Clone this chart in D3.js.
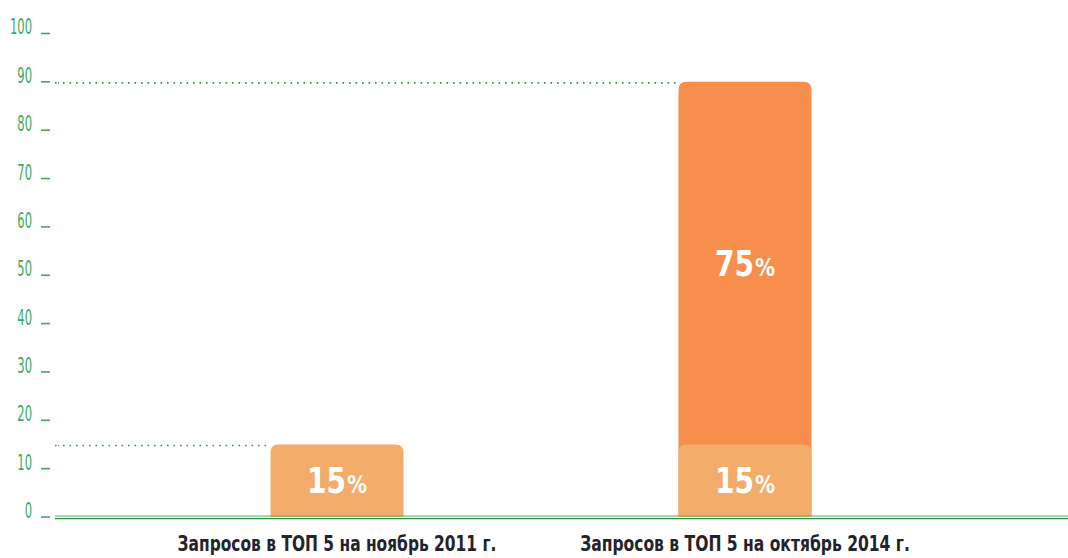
<!DOCTYPE html>
<html>
<head>
<meta charset="utf-8">
<script src="https://cdn.jsdelivr.net/npm/d3@7"></script>
<style>
  html, body { margin: 0; padding: 0; background: #ffffff; }
  svg { display: block; }
</style>
</head>
<body>
<svg id="chart" width="1068" height="558"></svg>
<script>
// ---- data ----
const categories = ["Запросов в ТОП 5 на ноябрь 2011 г.", "Запросов в ТОП 5 на октябрь 2014 г."];
const baseValues = [15, 15];      // light segment
const growthValues = [0, 75];     // dark segment stacked on top
const baseLabels = ["15", "15"];
const growthLabels = ["", "75"];
const yTicks = [0, 10, 20, 30, 40, 50, 60, 70, 80, 90, 100];

// ---- styles ----
const lightOrange = "#f4ac6a";
const darkOrange = "#f78e4b";
const greenText = "#3daa5f";
const greenDark = "#1f9a45";
const fontNarrow = "'DejaVu Sans Condensed', 'Liberation Sans Narrow', 'Liberation Sans', sans-serif";

const svg = d3.select("#chart");

const y = d3.scaleLinear().domain([0, 100]).range([517, 33.5]);
const x = d3.scaleBand().domain(categories).range([66.5, 1015.5])
  .paddingInner(0.674).paddingOuter(0.5);

// scale a text horizontally about an anchor
function squeeze(t, ax, factor) {
  t.attr("transform", `translate(${ax},0) scale(${factor},1) translate(${-ax},0)`);
}

// ---- y axis tick labels and dash ticks ----
const yAxis = svg.append("g");
const probe = yAxis.append("text").attr("font-family", fontNarrow).attr("font-size", 21).text("100");
const yFactor = 22 / probe.node().getComputedTextLength();
probe.remove();
yTicks.forEach(t => {
  const ty = y(t);
  const lbl = yAxis.append("text")
    .attr("x", 32).attr("y", ty + 1)
    .attr("text-anchor", "end")
    .attr("font-family", fontNarrow)
    .attr("font-size", 21)
    .attr("fill", greenText)
    .text(t);
  squeeze(lbl, 32, yFactor);
  yAxis.append("line")
    .attr("x1", 41).attr("x2", 50)
    .attr("y1", ty).attr("y2", ty)
    .attr("stroke", greenText).attr("stroke-width", 1.6);
});

// ---- dotted leader lines ----
categories.forEach((c, i) => {
  const total = baseValues[i] + growthValues[i];
  const ly = y(total) + 1;
  const x1 = 55, x2 = x(c) - 3;
  svg.append("line")
    .attr("x1", x1).attr("x2", x1 + 4)
    .attr("y1", ly).attr("y2", ly)
    .attr("stroke", greenDark).attr("stroke-width", 1.6)
    .attr("stroke-dasharray", "1.6,1.6");
  svg.append("line")
    .attr("x1", x1 + 8).attr("x2", x2)
    .attr("y1", ly).attr("y2", ly)
    .attr("stroke", greenDark).attr("stroke-width", 1.6)
    .attr("stroke-dasharray", "1.6,4.9");
});

// ---- bars (rounded top corners) ----
function topRounded(x0, y0, w, h, r) {
  r = Math.min(r, h / 2, w / 2);
  return `M${x0},${y0 + h} L${x0},${y0 + r} Q${x0},${y0} ${x0 + r},${y0} ` +
         `L${x0 + w - r},${y0} Q${x0 + w},${y0} ${x0 + w},${y0 + r} L${x0 + w},${y0 + h} Z`;
}
const bars = svg.append("g");
categories.forEach((c, i) => {
  const bx = x(c), bw = x.bandwidth();
  const total = baseValues[i] + growthValues[i];
  if (growthValues[i] > 0) {
    bars.append("path")
      .attr("d", topRounded(bx, y(total), bw, y(0) - y(total), 8))
      .attr("fill", darkOrange);
  }
  bars.append("path")
    .attr("d", topRounded(bx, y(baseValues[i]), bw, y(0) - y(baseValues[i]), 8))
    .attr("fill", lightOrange);
});

// ---- value labels ----
function valueLabel(cx, cy, num) {
  const t = svg.append("text")
    .attr("x", cx).attr("y", cy + 12.5)
    .attr("text-anchor", "middle")
    .attr("font-family", fontNarrow)
    .attr("font-weight", "bold")
    .attr("fill", "#ffffff");
  t.append("tspan").attr("font-size", 35).text(num);
  t.append("tspan").attr("font-size", 25).attr("dx", 1).text("%");
  const w = t.node().getComputedTextLength();
  squeeze(t, cx, 59 / w);
}
categories.forEach((c, i) => {
  const cx = x(c) + x.bandwidth() / 2;
  valueLabel(cx, (y(0) + y(baseValues[i])) / 2, baseLabels[i]);
  if (growthValues[i] > 0) {
    const total = baseValues[i] + growthValues[i];
    valueLabel(cx, (y(baseValues[i]) + y(total)) / 2, growthLabels[i]);
  }
});

// ---- baseline (double green line) ----
svg.append("line").attr("x1", 55).attr("x2", 1068).attr("y1", 516).attr("y2", 516)
  .attr("stroke", "#4cb86c").attr("stroke-width", 1.2);
svg.append("line").attr("x1", 55).attr("x2", 1068).attr("y1", 518.6).attr("y2", 518.6)
  .attr("stroke", greenDark).attr("stroke-width", 1.4);

// ---- category labels ----
const catWidths = [319, 330];
categories.forEach((c, i) => {
  const cx = x(c) + x.bandwidth() / 2;
  const t = svg.append("text")
    .attr("x", cx).attr("y", 551)
    .attr("text-anchor", "middle")
    .attr("font-family", fontNarrow)
    .attr("font-weight", "bold")
    .attr("font-size", 21)
    .attr("fill", "#23232b")
    .text(c);
  const w = t.node().getComputedTextLength();
  squeeze(t, cx, catWidths[i] / w);
});
</script>
</body>
</html>
